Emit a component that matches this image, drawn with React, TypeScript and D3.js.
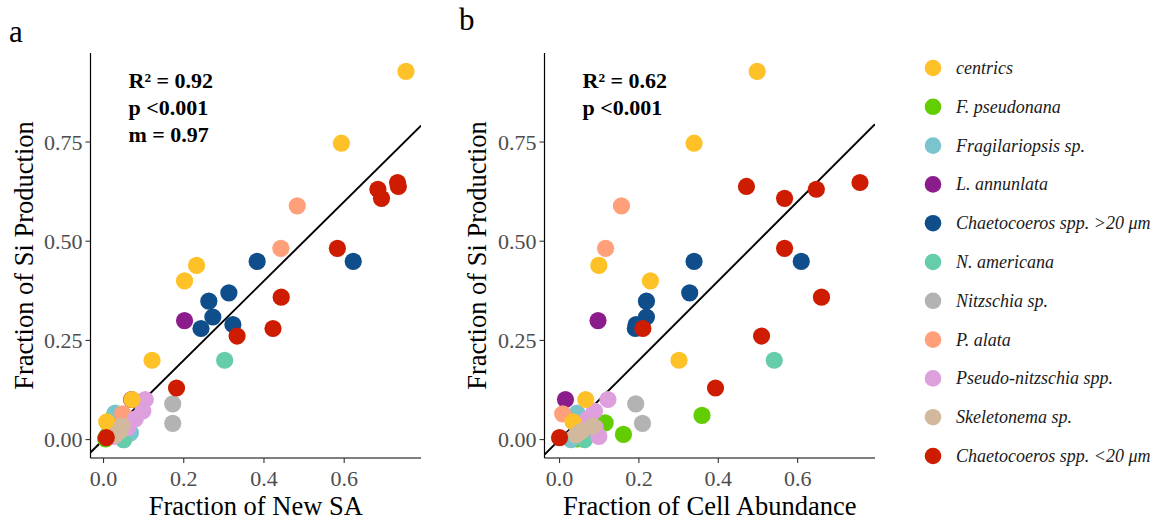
import React from "react";
import * as d3 from "d3";

const speciesNames = [
  "centrics",
  "F. pseudonana",
  "Fragilariopsis sp.",
  "L. annunlata",
  "Chaetocoeros spp. >20 μm",
  "N. americana",
  "Nitzschia sp.",
  "P. alata",
  "Pseudo-nitzschia spp.",
  "Skeletonema sp.",
  "Chaetocoeros spp. <20 μm",
];
const speciesColors = [
  "#FEC127", "#62CD00", "#7AC5CD", "#8B1C8B", "#104E8B", "#66CDAA",
  "#B3B3B3", "#FFA07A", "#DDA0DD", "#D2B99E", "#CD1C00",
];
// drawing order (later = on top)
const drawOrder = [3, 1, 2, 5, 6, 7, 8, 0, 9, 4, 10];

// one entry per observation
const pointSpecies = [
  0, 0, 0, 0, 0, 0, 0,
  1, 1, 1, 1,
  2, 2, 2,
  3, 3,
  4, 4, 4, 4, 4, 4, 4,
  5, 5,
  6, 6,
  7, 7, 7,
  8, 8, 8, 8, 8,
  9, 9, 9,
  10, 10, 10, 10, 10, 10, 10, 10, 10, 10,
];
const siProduction = [
  0.928, 0.747, 0.439, 0.4, 0.2, 0.101, 0.045,
  0.061, 0.042, 0.013, 0.002,
  0.067, 0.017, 0.0,
  0.3, 0.101,
  0.449, 0.449, 0.37, 0.349, 0.309, 0.29, 0.28,
  0.2, 0.0,
  0.09, 0.041,
  0.589, 0.482, 0.065,
  0.101, 0.072, 0.052, 0.03, 0.008,
  0.034, 0.021, 0.012,
  0.648, 0.638, 0.631, 0.608, 0.482, 0.359, 0.28, 0.261, 0.13, 0.005,
];
const fractionNewSA = [
  0.754, 0.593, 0.232, 0.202, 0.121, 0.071, 0.008,
  0.027, 0.02, 0.012, 0.005,
  0.029, 0.067, 0.05,
  0.202, 0.07,
  0.383, 0.6225, 0.3125, 0.2625, 0.2725, 0.3225, 0.243,
  0.302, 0.05,
  0.1725, 0.1725,
  0.483, 0.442, 0.048,
  0.104, 0.098, 0.079, 0.06, 0.025,
  0.046, 0.04, 0.03,
  0.733, 0.735, 0.684, 0.693, 0.583, 0.443, 0.4225, 0.333, 0.182, 0.007,
];
const fractionCellAbundance = [
  0.498, 0.339, 0.099, 0.229, 0.301, 0.066, 0.034,
  0.359, 0.115, 0.161, 0.045,
  0.044, 0.05, 0.029,
  0.097, 0.015,
  0.339, 0.609, 0.328, 0.219, 0.219, 0.193, 0.191,
  0.541, 0.063,
  0.192, 0.209,
  0.156, 0.116, 0.008,
  0.122, 0.088, 0.071, 0.09, 0.099,
  0.084, 0.055, 0.042,
  0.757, 0.471, 0.647, 0.567, 0.567, 0.66, 0.21, 0.509, 0.393, 0.0,
];

const xTicks = [0, 0.2, 0.4, 0.6];
const yTicks = [0, 0.25, 0.5, 0.75];

const panelA = { label: "a", xTitle: "Fraction of New SA", stats: ["R² = 0.92", "p <0.001", "m = 0.97"] };
const panelB = { label: "b", xTitle: "Fraction of Cell Abundance", stats: ["R² = 0.62", "p <0.001"] };

const SERIF = "'Liberation Serif', 'Times New Roman', serif";

function expand(ext: [number, number]): [number, number] {
  const r = ext[1] - ext[0];
  return [ext[0] - 0.05 * r, ext[1] + 0.05 * r];
}

function Panel({
  xs, left, right, top, bottom, info, titleX, labelPos, id,
}: any) {
  const x = d3.scaleLinear().domain(expand(d3.extent(xs) as [number, number])).range([left, right]);
  const y = d3.scaleLinear().domain(expand(d3.extent(siProduction) as [number, number])).range([bottom, top]);
  const xd = x.domain();
  const lo = Math.max(xd[0], y.domain()[0]);
  const hi = Math.min(xd[1], y.domain()[1]);
  const idx = d3.range(pointSpecies.length).sort(
    (a, b) => drawOrder.indexOf(pointSpecies[a]) - drawOrder.indexOf(pointSpecies[b]) || a - b
  );
  const fmtY = d3.format(".2f");
  const fmtX = d3.format(".1f");
  return (
    <g>
      <defs>
        <clipPath id={id}>
          <rect x={left} y={top} width={right - left} height={bottom - top} />
        </clipPath>
      </defs>
      <text x={labelPos[0]} y={labelPos[1]} fontFamily={SERIF} fontSize={31} fill="#000">{info.label}</text>
      <g clipPath={`url(#${id})`}>
        <line x1={x(lo)} y1={y(lo)} x2={x(hi)} y2={y(hi)} stroke="#000" strokeWidth={1.9} />
        {idx.map((i) => (
          <circle key={i} cx={x(xs[i])} cy={y(siProduction[i])} r={8.6} fill={speciesColors[pointSpecies[i]]} />
        ))}
      </g>
      <line x1={left} y1={bottom} x2={right} y2={bottom} stroke="#000" strokeWidth={1.2} />
      <line x1={left} y1={top} x2={left} y2={bottom} stroke="#000" strokeWidth={1.2} />
      {xTicks.map((t) => (
        <g key={t}>
          <line x1={x(t)} x2={x(t)} y1={bottom} y2={bottom + 5} stroke="#333" strokeWidth={1.1} />
          <text x={x(t)} y={bottom + 28} textAnchor="middle" fontFamily={SERIF} fontSize={22} fill="#4D4D4D">{fmtX(t)}</text>
        </g>
      ))}
      {yTicks.map((t) => (
        <g key={t}>
          <line x1={left - 5} x2={left} y1={y(t)} y2={y(t)} stroke="#333" strokeWidth={1.1} />
          <text x={left - 8} y={y(t)} dy="0.35em" textAnchor="end" fontFamily={SERIF} fontSize={22} fill="#4D4D4D">{fmtY(t)}</text>
        </g>
      ))}
      <text x={(left + right) / 2} y={515} textAnchor="middle" fontFamily={SERIF} fontSize={26.5} fill="#000">{info.xTitle}</text>
      <text transform={`translate(${titleX},${(top + bottom) / 2}) rotate(-90)`} textAnchor="middle" fontFamily={SERIF} fontSize={26.5} fill="#000">Fraction of Si Production</text>
      {info.stats.map((s: string, k: number) => (
        <text key={k} x={left + 38} y={88 + k * 27} fontFamily={SERIF} fontWeight="bold" fontSize={22} fill="#000">{s}</text>
      ))}
    </g>
  );
}

export default function App() {
  const legendY = d3.scalePoint().domain(speciesNames).range([68, 456]);
  return (
    <svg width={1161} height={521} style={{ position: "absolute", left: 0, top: 0, background: "#fff" }}>
      <rect width={1161} height={521} fill="#fff" />
      <Panel xs={fractionNewSA} left={90.5} right={421} top={53} bottom={458} info={panelA} titleX={33} labelPos={[9, 42]} id="clipA" />
      <Panel xs={fractionCellAbundance} left={544.5} right={875} top={53} bottom={458} info={panelB} titleX={486} labelPos={[459, 30]} id="clipB" />
      {speciesNames.map((s, k) => (
        <g key={s}>
          <circle cx={933} cy={legendY(s)} r={8.3} fill={speciesColors[k]} />
          <text x={956} y={legendY(s)} dy="0.33em" fontFamily={SERIF} fontStyle="italic" fontSize={18} fill="#1a1a1a">{s}</text>
        </g>
      ))}
    </svg>
  );
}
